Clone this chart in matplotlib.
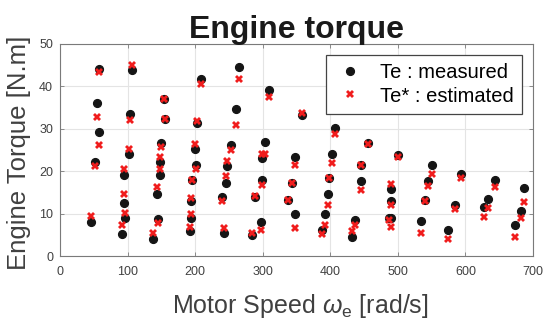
import matplotlib
matplotlib.use("Agg")
import matplotlib.pyplot as plt

plt.rcParams['font.family'] = ['Liberation Sans', 'DejaVu Sans']
plt.rcParams['mathtext.fontset'] = 'custom'
plt.rcParams['mathtext.it'] = 'Liberation Sans:italic'
plt.rcParams['mathtext.rm'] = 'Liberation Sans'

speed = [45.6, 51.9, 54.4, 57, 58,
         92.3, 94.4, 95.4, 96.4, 102.7, 103.7, 106.3,
         137.4, 144.1, 145.2, 147.8, 148.3, 149.9, 154, 156.1,
         192.4, 193.5, 194.4, 196, 200.1, 201.2, 203.3, 208.4,
         239.6, 242.7, 246.3, 247.8, 253.6, 259.8, 264.4,
         283.6, 288.8, 298.1, 298.7, 298.7, 303.9, 309,
         338, 343.7, 347.9, 347.9, 358.3,
         387.3, 392.4, 396.5, 397.6, 401.8, 407.6,
         431.4, 436.6, 445.9, 445.9, 455.8,
         486.3, 490.4, 490.4, 490.4, 500.7,
         534.5, 539.7, 544.9, 550,
         573.9, 584.3, 594.1,
         627.8, 633, 643.4,
         672.9, 682.7, 687.4]
te_measured = [8.15, 22.3, 36.1, 29.3, 44.0,
               5.4, 12.6, 19.1, 9.1, 24.1, 33.6, 43.8,
               4.0, 14.7, 8.9, 19.1, 22.2, 26.6, 37.1, 32.4,
               6.0, 9.1, 13.0, 18.0, 25.2, 21.5, 31.3, 41.8,
               13.9, 5.6, 17.2, 21.2, 26.2, 34.7, 44.5,
               5.1, 13.9, 8.0, 17.9, 23.2, 26.9, 39.2,
               13.2, 17.3, 10.0, 23.4, 33.3,
               6.2, 10.0, 14.6, 18.5, 24.0, 30.3,
               4.6, 8.5, 17.8, 21.6, 26.6,
               9.0, 9.1, 13.0, 15.9, 23.9,
               8.4, 13.4, 17.7, 21.6,
               6.3, 12.1, 19.3,
               11.7, 13.6, 18.1,
               7.4, 10.6, 16.0]
te_estimated = [9.6, 21.2, 32.8, 26.2, 43.3,
                7.4, 14.7, 20.5, 10.3, 25.3, 32.1, 45.1,
                5.6, 16.3, 7.8, 20.6, 23.4, 25.7, 37.1, 32.4,
                7.0, 10.0, 13.8, 18.0, 26.4, 20.7, 31.8, 40.7,
                13.0, 6.7, 19.0, 22.4, 25.0, 31.0, 41.8,
                5.6, 14.3, 6.3, 16.8, 24.0, 24.0, 37.6,
                13.2, 17.3, 6.8, 21.5, 33.8,
                5.4, 7.4, 12.2, 18.5, 22.1, 28.9,
                5.9, 7.3, 15.6, 21.6, 26.4,
                8.7, 7.0, 12.2, 17.1, 23.4,
                5.6, 13.0, 16.5, 19.4,
                4.2, 11.1, 18.4,
                9.4, 11.4, 16.4,
                4.6, 9.0, 12.9]

xticks = [0, 100, 200, 300, 400, 500, 600, 700]
yticks = [0, 10, 20, 30, 40, 50]

fig = plt.figure(figsize=(5.5, 3.29), dpi=100)
ax = fig.add_axes([0.1091, 0.2204, 0.86, 0.6459])

ax.plot(speed, te_measured, 'o', color='#151515', markersize=5.6,
        linestyle='none', label='Te : measured', zorder=3)
ax.plot(speed, te_estimated, 'X', color='#f01c1c', markersize=5.6,
        markeredgewidth=0, linestyle='none', label='Te* : estimated', zorder=4)

ax.set_xlim(0, 700)
ax.set_ylim(0, 50)
ax.set_xticks(xticks)
ax.set_yticks(yticks)
ax.grid(True, color='#e4e4e4', linewidth=0.8)
ax.set_axisbelow(True)
for s in ax.spines.values():
    s.set_color('#7a7a7a')
    s.set_linewidth(0.8)
ax.tick_params(direction='in', length=3, color='#7a7a7a', width=0.6,
               labelcolor='#404040', labelsize=9, top=True, right=True)
ax.tick_params(axis='x', pad=7)
ax.tick_params(axis='y', pad=5)

ax.set_title('Engine torque', fontsize=23, fontweight='bold', color='#1a1a1a', pad=4)
ax.set_xlabel(r'Motor Speed $\omega_{\mathrm{e}}$ [rad/s]', fontsize=18, color='#404040')
ax.set_ylabel('Engine Torque [N.m]', fontsize=18.5, color='#404040')
ax.xaxis.set_label_coords(0.507, -0.165)
ax.yaxis.set_label_coords(-0.062, 0.489)

leg = ax.legend(loc='upper right', bbox_to_anchor=(0.977, 0.948), borderaxespad=0,
                fontsize=14.5, frameon=True, fancybox=False, edgecolor='#444444',
                framealpha=1, handletextpad=0.7, borderpad=0.4, labelspacing=0.22,
                handlelength=1.6)
leg.get_frame().set_linewidth(0.9)

fig.savefig('out.png', dpi=100)
